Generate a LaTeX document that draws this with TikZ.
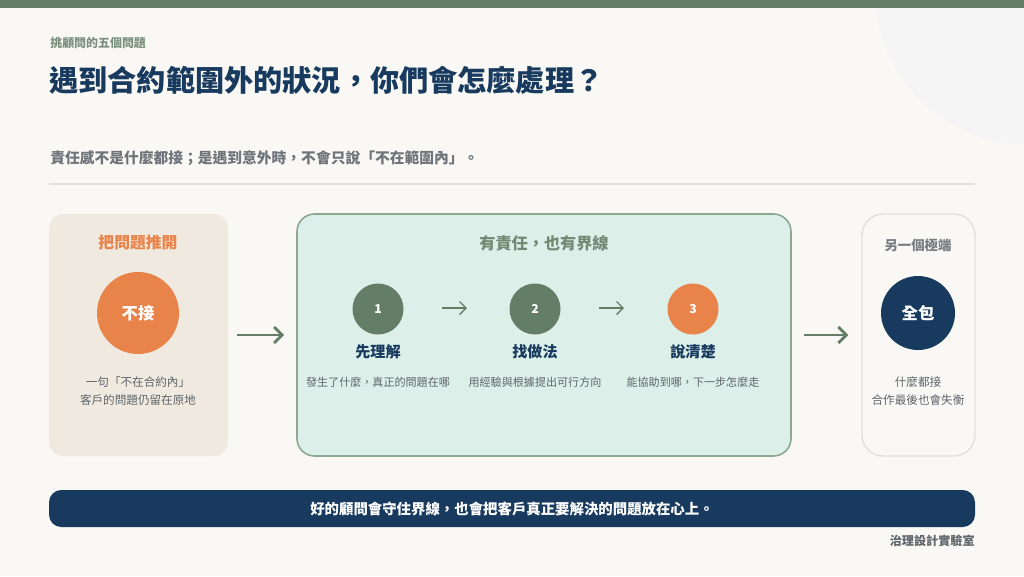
\documentclass[tikz,border=0pt]{standalone}
\usepackage{fontspec}
\setmainfont{Noto Sans CJK TC}
\usetikzlibrary{arrows.meta,positioning}
\definecolor{paper}{HTML}{F9F8F4}
\definecolor{sage}{HTML}{647D66}
\definecolor{sagefill}{HTML}{DCEFE9}
\definecolor{sageline}{HTML}{8DA891}
\definecolor{sand}{HTML}{EFE9DF}
\definecolor{carrot}{HTML}{E8834A}
\definecolor{navy}{HTML}{173A5E}
\definecolor{slate}{HTML}{5E656B}
\definecolor{mist}{HTML}{E2E0DA}
\tikzset{
  x=0.02cm,y=-0.02cm,
  >={Stealth[length=2.6mm]},
  panel/.style={rounded corners=8pt,minimum height=242*0.02cm},
  dot/.style={circle,fill=#1,text=white,inner sep=0pt,font=\bfseries},
  dot/.default=sage,
  heading/.style={anchor=west,inner sep=0pt},
  step label/.style={font=\fontsize{8.6}{10}\selectfont\bfseries,text=navy},
  step note/.style={font=\fontsize{6.3}{8}\selectfont,text=slate},
  side note/.style={font=\fontsize{6.6}{10}\selectfont,text=slate,align=center},
  flow/.style={-{Straight Barb[length=1.6mm,width=3.2mm]},line width=1.6pt,draw=sage},
  thin flow/.style={-{Straight Barb[length=1.3mm,width=2.6mm]},line width=0.8pt,draw=sage},
}
\begin{document}
\begin{tikzpicture}
  % background
  \fill[paper] (0,0) rectangle (1024,576);
  \useasboundingbox (0,0) rectangle (1024,576);
  \begin{scope}
    \clip (820,8) rectangle (1024,160);
    \fill[black!4] (1030,-10) circle (155);
    \draw[black!6,line width=0.3pt,rotate=-30,step=10pt] (700,-200) grid (1100,300);
  \end{scope}
  \fill[sage] (0,0) rectangle (1024,8);

  % header
  \node[heading,font=\fontsize{6.8}{8}\selectfont\bfseries,text=sage!85] (kicker) at (50,43) {挑顧問的五個問題};
  \node[heading,font=\fontsize{16.6}{20}\selectfont\bfseries,text=navy] (title) at (49,80) {遇到合約範圍外的狀況，你們會怎麼處理？};
  \node[heading,font=\fontsize{8.4}{10}\selectfont\bfseries,text=slate!90] (lead) at (50,158) {責任感不是什麼都接；是遇到意外時，不會只說「不在範圍內」。};
  \draw[mist,line width=0.8pt] (49,184) -- (975,184);

  % left panel
  \node[panel,fill=sand,minimum width=179*0.02cm] (push) at (138.5,335) {};
  \node[font=\fontsize{9}{10}\selectfont\bfseries,text=carrot] (pushT) at (138,243) {把問題推開};
  \node[dot=carrot,minimum size=82*0.02cm,font=\fontsize{9.3}{10}\selectfont\bfseries] (no) at (138,313) {不接};
  \node[side note] (noN) at (138,391) {一句「不在合約內」\\客戶的問題仍留在原地};

  % middle panel
  \node[panel,fill=sagefill,draw=sageline,line width=0.9pt,rounded corners=10pt,minimum width=494*0.02cm] (mid) at (544,335) {};
  \node[font=\fontsize{9.2}{10}\selectfont\bfseries,text=sage!90] (midT) at (544,243) {有責任，也有界線};
  \foreach \i/\x/\c/\t/\d in {1/378/sage/先理解/發生了什麼，真正的問題在哪,
                              2/535/sage/找做法/用經驗與根據提出可行方向,
                              3/693/carrot/說清楚/能協助到哪，下一步怎麼走} {
    \node[dot=\c,minimum size=51*0.02cm,font=\fontsize{7}{8}\selectfont\bfseries] (s\i) at (\x,309) {\i};
    \node[step label] (l\i) at (\x,352) {\t};
    \node[step note] (n\i) at (\x,382) {\d};
  }
  \coordinate (a1) at (442,308); \coordinate (b1) at (467,308);
  \coordinate (a2) at (599,308); \coordinate (b2) at (624,308);
  \draw[thin flow] (a1) -- (b1);
  \draw[thin flow] (a2) -- (b2);

  % right panel
  \node[panel,fill=paper,draw=mist,line width=0.8pt,rounded corners=12pt,minimum width=113*0.02cm] (all) at (918.5,335) {};
  \node[font=\fontsize{7.6}{9}\selectfont\bfseries,text=slate!85] (allT) at (918,245) {另一個極端};
  \node[dot=navy,minimum size=74*0.02cm,font=\fontsize{9.3}{10}\selectfont\bfseries] (yes) at (918,313) {全包};
  \node[side note] (yesN) at (918,391) {什麼都接\\合作最後也會失衡};

  % connectors between panels
  \path (push.east) ++(9,0) coordinate (p1) (mid.west) ++(-12,0) coordinate (p2);
  \draw[flow] (p1) -- (p2);
  \path (mid.east) ++(12,0) coordinate (p3) (all.west) ++(-13,0) coordinate (p4);
  \draw[flow] (p3) -- (p4);

  % footer
  \node[fill=navy,rounded corners=7pt,minimum width=926*0.02cm,minimum height=37*0.02cm,
    text=white,font=\fontsize{8.2}{10}\selectfont\bfseries] (motto) at (512,508.5) {好的顧問會守住界線，也會把客戶真正要解決的問題放在心上。};
  \node[anchor=east,inner sep=0pt,font=\fontsize{6.9}{8}\selectfont\bfseries,text=slate] (brand) at (975,541) {治理設計實驗室};
\end{tikzpicture}
\end{document}
